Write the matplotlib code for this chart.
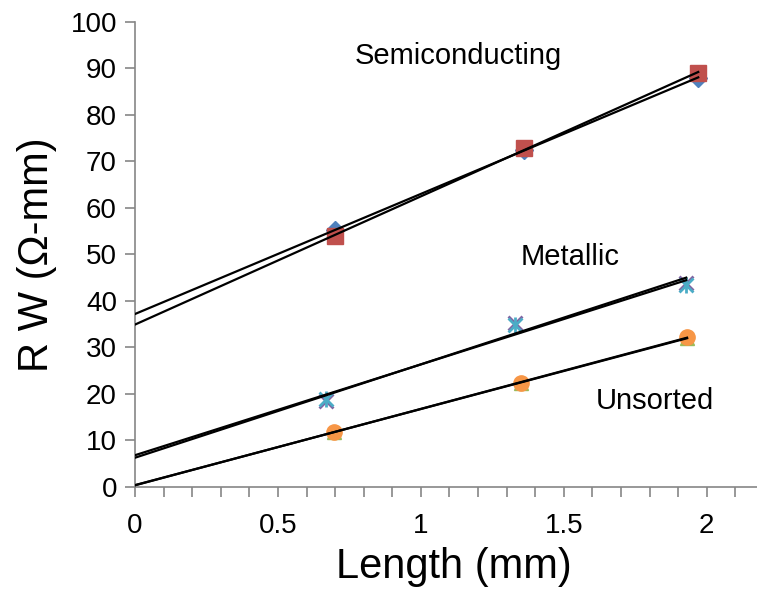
import numpy as np
import matplotlib.pyplot as plt
from matplotlib.ticker import MultipleLocator

plt.rcParams['font.family'] = ['Liberation Sans', 'DejaVu Sans']

# semiconducting tubes, two samples
semi_a_len = [0.70, 1.36, 1.97]
semi_a_rw = [55.2, 72.5, 88.0]
semi_b_len = [0.70, 1.36, 1.97]
semi_b_rw = [54.0, 72.9, 89.0]

# metallic tubes, two samples
metal_a_len = [0.668, 1.328, 1.928]
metal_a_rw = [18.6, 35.3, 43.8]
metal_b_len = [0.668, 1.328, 1.928]
metal_b_rw = [18.9, 34.8, 43.4]

# unsorted tubes, two samples
unsort_a_len = [0.697, 1.351, 1.931]
unsort_a_rw = [11.9, 22.3, 32.1]
unsort_b_len = [0.697, 1.351, 1.931]
unsort_b_rw = [11.9, 22.4, 32.2]

series = [
    (semi_a_len, semi_a_rw, 'D', '#4F81BD', 9),
    (semi_b_len, semi_b_rw, 's', '#C0504D', 11),
    (unsort_a_len, unsort_a_rw, '^', '#9BBB59', 10),
    (metal_a_len, metal_a_rw, 'x', '#8064A2', 10),
    (metal_b_len, metal_b_rw, '*', '#4BACC6', 0),
    (unsort_b_len, unsort_b_rw, 'o', '#F79646', 11),
]

fig = plt.figure(figsize=(7.57, 5.96), dpi=100)
ax = fig.add_axes([0.1783, 0.1829, 0.8309, 0.7802])

for xs, ys, mk, col, ms in series:
    if mk == '*':
        # excel style asterisk: an x with a vertical bar
        ax.plot(xs, ys, linestyle='none', marker='x', ms=10, mew=2, color=col, zorder=3)
        ax.plot(xs, ys, linestyle='none', marker='|', ms=12, mew=2, color=col, zorder=3)
    elif mk == 'x':
        ax.plot(xs, ys, linestyle='none', marker=mk, ms=ms, mew=2, color=col, zorder=3)
    else:
        ax.plot(xs, ys, linestyle='none', marker=mk, ms=ms, color=col, mec=col, zorder=3)

# linear trendlines extended back to zero length
for xs, ys, mk, col, ms in series:
    k, b = np.polyfit(xs, ys, 1)
    xx = np.array([0, max(xs)])
    ax.plot(xx, k * xx + b, color='black', lw=1.6, zorder=4)

ax.text(1.132, 92.6, 'Semiconducting', fontsize=21, ha='center', va='center')
ax.text(1.523, 49.5, 'Metallic', fontsize=21, ha='center', va='center')
ax.text(1.819, 18.6, 'Unsorted', fontsize=21, ha='center', va='center')

ax.set_xlim(0, 2.2)
ax.set_ylim(0, 100)
ax.xaxis.set_minor_locator(MultipleLocator(0.1))
ax.yaxis.set_major_locator(MultipleLocator(10))
ax.set_xticks([0, 0.5, 1, 1.5, 2])
ax.set_xticklabels(['0', '0.5', '1', '1.5', '2'])

for side in ['top', 'right']:
    ax.spines[side].set_visible(False)
for side in ['left', 'bottom']:
    ax.spines[side].set_color('#868686')
    ax.spines[side].set_linewidth(1.2)
    ax.spines[side].set_clip_on(False)

ax.tick_params(which='both', direction='out', color='#868686', width=1.2, length=7)
ax.tick_params(axis='both', labelsize=20, pad=6)
ax.tick_params(axis='x', pad=12)

ax.set_xlabel('Length (mm)', fontsize=30)
ax.xaxis.set_label_coords(0.507, -0.128)
ax.set_ylabel('R W (Ω-mm)', fontsize=30, labelpad=10)

fig.savefig('out.png', dpi=100)
